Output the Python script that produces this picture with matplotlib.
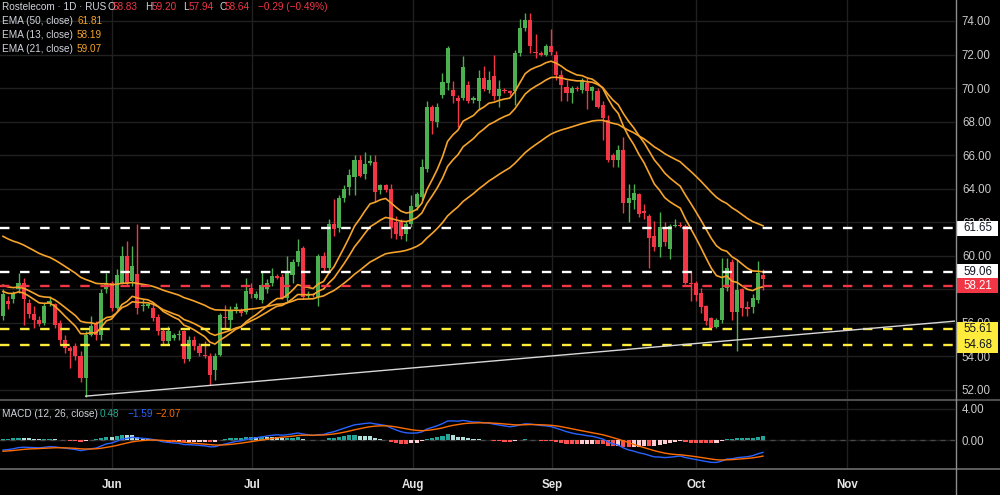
import numpy as np
import matplotlib
matplotlib.use('Agg')
import matplotlib.pyplot as plt
from matplotlib.patches import Rectangle
from matplotlib.transforms import blended_transform_factory

plt.rcParams['font.family'] = ['Liberation Sans', 'DejaVu Sans']

# ---------------- data ----------------
opens = [56.4, 57.3, 57.4, 58.0, 58.4, 57.2, 56.5, 56.2, 56.0, 57.2,
         57.1, 56.0, 55.0, 54.5, 54.6, 54.0, 52.7, 55.3, 56.0, 55.3,
         58.0, 58.4, 56.9, 58.4, 60.0, 58.5, 58.9, 57.0, 57.0, 56.9,
         56.35, 55.5, 54.9, 55.1, 55.25, 55.5, 53.85, 55.0, 54.6, 54.1,
         54.05, 53.2, 54.1, 56.35, 56.2, 56.8, 56.7, 56.65, 58.05, 57.5,
         57.35, 58.0, 58.4, 58.75, 58.75, 57.5, 58.85, 59.6, 60.45, 57.6,
         57.7, 57.55, 60.0, 59.3, 61.9, 61.65, 63.45, 64.1, 64.7, 65.7,
         64.9, 65.55, 65.6, 63.9, 64.2, 64.0, 62.0, 62.0, 61.3, 61.9,
         62.9, 63.5, 65.2, 68.85, 67.95, 69.6, 70.3, 69.9, 69.4, 69.4,
         70.2, 69.3, 69.2, 70.6, 69.9, 70.7, 69.5, 69.9, 69.85, 69.8,
         72.1, 73.6, 74.05, 72.15, 72.05, 72.0, 72.5, 72.0, 70.8, 70.05,
         69.7, 70.0, 69.9, 70.3, 69.8, 69.85, 69.0, 68.1, 66.0, 65.7,
         66.3, 63.15, 63.3, 63.7, 62.65, 62.4, 61.2, 60.5, 61.7, 60.4,
         61.75, 61.85, 61.75, 58.4, 58.35, 57.8, 57.0, 56.3, 55.75, 56.15,
         58.05, 59.6, 56.65, 58.0, 56.95, 56.95, 57.35, 58.83]
highs = [58.0, 57.6, 57.9, 59.0, 58.7, 57.4, 57.0, 56.4, 57.2, 57.6,
         57.2, 56.2, 55.3, 54.6, 54.8, 54.3, 55.5, 56.4, 56.1, 58.0,
         59.0, 58.5, 59.2, 60.6, 60.9, 60.6, 61.9, 57.4, 57.2, 57.1,
         56.5, 55.7, 55.8, 55.4, 55.6, 55.6, 55.2, 55.2, 54.8, 54.9,
         54.2, 54.2, 56.6, 57.05, 57.0, 57.2, 56.9, 58.7, 58.4, 57.9,
         59.1, 58.6, 59.3, 58.9, 58.9, 60.0, 59.8, 61.0, 60.6, 57.9,
         57.8, 60.1, 60.2, 62.2, 63.4, 63.6, 64.2, 65.2, 66.0, 66.0,
         66.2, 66.0, 66.0, 64.3, 64.3, 64.3, 62.4, 62.2, 62.1, 63.6,
         63.8, 65.8, 69.2, 69.0, 69.1, 70.9, 72.5, 70.4, 69.6, 71.9,
         70.4, 69.5, 71.1, 71.3, 71.0, 72.0, 70.5, 70.0, 69.9, 72.3,
         74.1, 74.5, 74.45, 73.2, 72.2, 72.6, 73.5, 72.2, 71.1, 70.5,
         70.1, 70.1, 70.6, 70.6, 70.1, 70.0, 69.2, 68.4, 66.1, 66.6,
         67.1, 64.3, 64.3, 63.75, 63.1, 62.5, 62.1, 62.6, 62.0, 61.9,
         62.2, 62.0, 61.9, 59.1, 58.5, 58.1, 57.05, 56.35, 56.3, 59.85,
         59.85, 59.8, 59.75, 58.1, 57.3, 57.7, 59.7, 59.20]
lows = [56.2, 56.8, 57.2, 57.8, 55.9, 56.3, 55.7, 55.8, 55.9, 57.0,
        55.7, 54.7, 54.2, 53.3, 53.8, 52.5, 51.6, 55.2, 55.0, 55.0,
        57.8, 56.7, 56.8, 58.3, 58.2, 58.2, 56.5, 56.7, 56.9, 56.1,
        55.3, 54.7, 54.7, 55.0, 55.0, 53.6, 53.7, 54.4, 54.0, 53.9,
        52.3, 52.6, 54.0, 55.7, 55.6, 56.6, 56.4, 56.5, 57.5, 57.4,
        57.2, 57.8, 58.2, 58.6, 57.4, 57.3, 58.4, 59.4, 57.4, 57.5,
        57.55, 57.0, 59.1, 59.1, 61.2, 61.4, 63.2, 63.6, 63.6, 64.7,
        64.6, 65.4, 63.2, 63.7, 63.8, 61.05, 61.0, 61.0, 60.9, 61.7,
        62.7, 63.3, 65.0, 67.25, 67.7, 69.4, 69.9, 69.1, 67.7, 69.3,
        69.1, 69.1, 68.7, 69.8, 69.7, 69.3, 68.9, 69.7, 69.6, 69.0,
        71.9, 73.4, 72.1, 71.8, 71.9, 71.9, 72.0, 70.5, 69.2, 69.2,
        69.1, 69.85, 69.7, 68.75, 69.3, 68.8, 66.9, 65.6, 65.3, 65.3,
        62.55, 62.0, 62.8, 62.3, 62.2, 59.3, 60.3, 59.9, 60.6, 59.8,
        61.7, 61.7, 58.3, 57.3, 57.3, 56.6, 55.9, 55.6, 55.7, 56.0,
        57.9, 56.2, 54.3, 56.4, 56.4, 56.6, 57.2, 57.94]
closes = [57.7, 57.1, 57.7, 58.4, 57.4, 56.5, 56.2, 55.95, 57.0, 57.3,
          55.9, 55.0, 54.5, 54.3, 54.0, 52.7, 55.3, 55.8, 55.3, 57.8,
          58.4, 56.9, 58.85, 60.0, 58.4, 59.4, 56.9, 57.05, 57.1, 56.3,
          55.5, 54.9, 55.5, 55.3, 55.35, 53.85, 55.0, 54.6, 54.2, 54.0,
          52.9, 54.0, 56.45, 56.3, 56.7, 56.95, 56.6, 57.9, 57.7, 57.7,
          58.25, 58.4, 58.8, 58.7, 57.5, 58.95, 59.6, 60.3, 57.55, 57.75,
          57.65, 60.0, 59.3, 61.9, 61.6, 63.45, 64.0, 64.8, 65.7, 64.75,
          65.5, 65.65, 63.8, 64.2, 63.9, 61.65, 61.3, 61.2, 61.9, 62.95,
          63.7, 65.3, 68.85, 68.05, 68.9, 70.35, 72.4, 69.5, 69.2, 71.25,
          69.2, 69.4, 70.6, 69.95, 70.5, 69.5, 69.95, 69.8, 69.7, 72.1,
          73.6, 74.05, 72.5, 72.1, 72.0, 72.5, 72.15, 70.8, 70.2, 69.7,
          70.0, 69.95, 70.5, 69.8, 70.05, 68.9, 68.2, 65.7, 65.7, 66.3,
          63.15, 63.45, 63.75, 62.5, 62.55, 61.05, 60.5, 61.7, 60.8, 61.75,
          61.85, 61.75, 58.35, 58.3, 57.65, 56.95, 56.1, 55.7, 56.15, 58.05,
          59.3, 56.65, 57.95, 56.9, 56.8, 57.5, 58.95, 58.64]

month_labels = ['Jun', 'Jul', 'Aug', 'Sep', 'Oct', 'Nov']
month_pos = [21.1, 48.2, 79.3, 106.2, 134.0, 163.2]

price_ticks = [52, 54, 56, 58, 60, 62, 64, 66, 68, 70, 72, 74]
hidden_price_ticks = [58]          # fully covered by a price tag in the reference
macd_ticks = [0, 4]

level_values = [61.65, 59.06, 58.21, 55.61, 54.68]
level_colors = ['#ffffff', '#ffffff', '#f23645', '#ffeb3b', '#ffeb3b']
level_text_colors = ['#131722', '#131722', '#ffffff', '#131722', '#131722']

trend_x = [16, 184]
trend_y = [51.63, 56.1]

# seeds for indicators (values before first visible bar)
EMA50_SEED, EMA21_SEED, EMA13_SEED = 61.3, 58.3, 57.9
FAST_SEED, SLOW_SEED, SIGNAL_SEED = 57.6, 59.0, -1.5


def ema(values, span, seed):
    a = 2.0 / (span + 1)
    out, prev = [], seed
    for v in values:
        prev = a * v + (1 - a) * prev
        out.append(prev)
    return np.array(out)


o = np.array(opens); h = np.array(highs); l = np.array(lows); c = np.array(closes)
n = len(c)
idx = np.arange(n)

ema50 = ema(c, 50, EMA50_SEED)
ema21 = ema(c, 21, EMA21_SEED)
ema13 = ema(c, 13, EMA13_SEED)
macd = ema(c, 12, FAST_SEED) - ema(c, 26, SLOW_SEED)
signal = ema(macd, 9, SIGNAL_SEED)
hist = macd - signal

# ---------------- figure ----------------
W, H = 1000, 495
fig = plt.figure(figsize=(W / 100, H / 100), dpi=100, facecolor='black')


def fx(px):
    return px / W


def fy(py):
    return 1 - py / H


ax = fig.add_axes([0, fy(400), fx(955), 400 / H])
axm = fig.add_axes([0, fy(469), fx(955), 69 / H])

GREEN = '#4caf50'
RED = '#f23645'
GRID = '#202020'
TXT = '#d1d4dc'
EMA_C = '#f5a32a'

xlim = (-3 / 5.17, (955 - 3) / 5.17)
for a in (ax, axm):
    a.set_facecolor('black')
    a.set_xlim(*xlim)
    for s in a.spines.values():
        s.set_visible(False)
    a.set_xticks(month_pos)
    a.grid(True, color=GRID, lw=1.0)
    a.set_axisbelow(True)

ax.set_ylim(51.40, 75.252)
ax.set_yticks(price_ticks)
ax.set_yticklabels(['' if v in hidden_price_ticks else f'{v:.2f}' for v in price_ticks])
ax.yaxis.tick_right()
ax.tick_params(axis='y', length=0, pad=5, labelcolor='#c9c9c9', labelsize=8.3)
ax.tick_params(axis='x', length=0, labelbottom=False)

axm.set_ylim(-3.74, 5.16)
axm.set_yticks(macd_ticks)
axm.set_yticklabels([f'{v:.2f}' for v in macd_ticks])
axm.yaxis.tick_right()
axm.tick_params(axis='y', length=0, pad=5, labelcolor='#c9c9c9', labelsize=8.3)
axm.set_xticklabels(month_labels)
axm.tick_params(axis='x', length=0, pad=7, labelcolor='#e6e6e6', labelsize=8.3)
for t in axm.get_xticklabels():
    t.set_fontweight('bold')

# ---------------- candles ----------------
up = c >= o
cols = np.where(up, GREEN, RED)
ax.vlines(idx, l, h, colors=cols, lw=1.0, zorder=3)
body_lo = np.minimum(o, c)
body_h = np.maximum(np.abs(c - o), 0.07)
ax.bar(idx, body_h, bottom=body_lo, width=0.8, color=cols, edgecolor='none', zorder=4)

# EMAs
for e in (ema50, ema21, ema13):
    ax.plot(idx, e, color=EMA_C, lw=1.2, zorder=5)

# horizontal levels
for v, col in zip(level_values, level_colors):
    ax.axhline(v, color=col, lw=1.7, ls=(0, (4, 4.5)), zorder=6)

# trend line
ax.plot(trend_x, trend_y, color='#d8d8d8', lw=1.0, zorder=6)

# price tags on axis
bt = blended_transform_factory(fig.transFigure, ax.transData)
for v, col, tcol in zip(level_values, level_colors, level_text_colors):
    r = Rectangle((fx(957), v - 0.45), fx(41), 0.9, transform=bt, facecolor=col,
                  edgecolor='none', clip_on=False, zorder=20)
    ax.add_artist(r)
    ax.text(fx(977.5), v, f'{v:.2f}', transform=bt, color=tcol, fontsize=8.3,
            ha='center', va='center', clip_on=False, zorder=21)

# ---------------- MACD ----------------
hcols = []
for i in range(n):
    prev = hist[i - 1] if i > 0 else hist[i]
    if hist[i] >= 0:
        hcols.append('#26a69a' if hist[i] >= prev else '#b2dfdb')
    else:
        hcols.append('#ffcdd2' if hist[i] >= prev else '#ff5252')
axm.bar(idx, hist, width=0.8, color=hcols, edgecolor='none', zorder=3)
axm.axhline(0, color='#4a4a4a', lw=0.9, ls=(0, (4, 4)), zorder=2)
axm.plot(idx, macd, color='#2962ff', lw=1.0, zorder=4)
axm.plot(idx, signal, color='#ff6d00', lw=1.0, zorder=4)

# ---------------- separators ----------------
fig.add_artist(plt.Line2D([0, 1], [fy(400), fy(400)], transform=fig.transFigure,
                          color='#4d4d4d', lw=1.5))
fig.add_artist(plt.Line2D([0, 1], [fy(469), fy(469)], transform=fig.transFigure,
                          color='#6e6e6e', lw=1.2))
fig.add_artist(plt.Line2D([fx(955.5), fx(955.5)], [0, 1], transform=fig.transFigure,
                          color='#8c8c8c', lw=1.0))

# ---------------- header texts ----------------
HS = 7.2


def ftext(px, py, s, color, size=HS):
    fig.text(fx(px), fy(py), s, color=color, fontsize=size, ha='left', va='center')


ftext(2, 7.5, 'Rostelecom · 1D · RUS', TXT)
ftext(107, 7.5, 'O', TXT); ftext(113, 7.5, '58.83', RED)
ftext(145, 7.5, 'H', TXT); ftext(152, 7.5, '59.20', RED)
ftext(183, 7.5, 'L', TXT); ftext(189, 7.5, '57.94', RED)
ftext(219, 7.5, 'C', TXT); ftext(225, 7.5, '58.64', RED)
ftext(258, 7.5, '\u22120.29 (\u22120.49%)', RED)

ftext(2, 21.5, 'EMA (50, close)', TXT); ftext(78, 21.5, '61.81', EMA_C)
ftext(2, 35.0, 'EMA (13, close)', TXT); ftext(77, 35.0, '58.19', EMA_C)
ftext(2, 48.5, 'EMA (21, close)', TXT); ftext(77, 48.5, '59.07', EMA_C)

ftext(2, 414, 'MACD (12, 26, close)', TXT)
ftext(100, 414, '0.48', '#22ab94')
ftext(127, 414, '\u22121.59', '#2962ff')
ftext(156, 414, '\u22122.07', '#ff6d00')

fig.savefig('out.png', dpi=100, facecolor='black')
